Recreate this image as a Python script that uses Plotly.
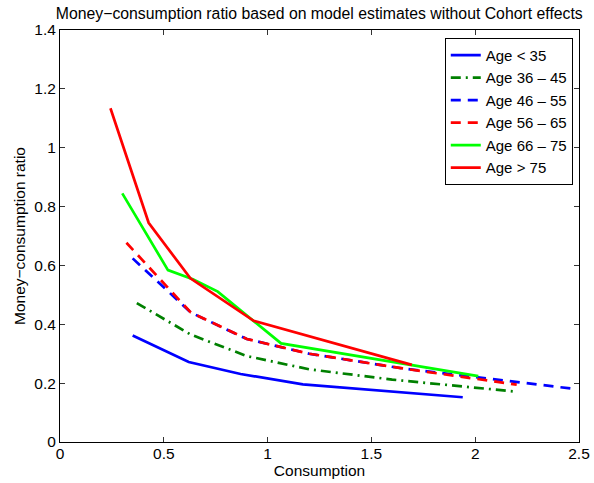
import plotly.graph_objects as go

# Data
age_lt35_x = [0.35, 0.62, 0.87, 1.17, 1.94]
age_lt35_y = [0.362, 0.272, 0.231, 0.196, 0.152]

age_36_45_x = [0.37, 0.63, 0.90, 1.20, 1.60, 2.20]
age_36_45_y = [0.472, 0.365, 0.292, 0.247, 0.212, 0.171]

age_46_55_x = [0.35, 0.63, 0.90, 1.20, 1.65, 2.46]
age_46_55_y = [0.624, 0.440, 0.350, 0.300, 0.250, 0.182]

age_56_65_x = [0.32, 0.63, 0.90, 1.20, 1.65, 2.20]
age_56_65_y = [0.677, 0.440, 0.350, 0.300, 0.250, 0.195]

age_66_75_x = [0.30, 0.52, 0.64, 0.76, 1.065, 2.015]
age_66_75_y = [0.845, 0.584, 0.553, 0.511, 0.335, 0.224]

age_gt75_x = [0.243, 0.427, 0.628, 0.933, 1.695]
age_gt75_y = [1.134, 0.745, 0.556, 0.412, 0.262]

series = [
    ("Age < 35", age_lt35_x, age_lt35_y, "#0000ff", "solid"),
    ("Age 36 \u2013 45", age_36_45_x, age_36_45_y, "#008000", "10px,5px,2px,5px"),
    ("Age 46 \u2013 55", age_46_55_x, age_46_55_y, "#0000ff", "10px,7px"),
    ("Age 56 \u2013 65", age_56_65_x, age_56_65_y, "#ff0000", "10px,7px"),
    ("Age 66 \u2013 75", age_66_75_x, age_66_75_y, "#00ff00", "solid"),
    ("Age > 75", age_gt75_x, age_gt75_y, "#ff0000", "solid"),
]

x_ticks = [0, 0.5, 1, 1.5, 2, 2.5]
x_tick_labels = ["0", "0.5", "1", "1.5", "2", "2.5"]
y_ticks = [0, 0.2, 0.4, 0.6, 0.8, 1, 1.2, 1.4]
y_tick_labels = ["0", "0.2", "0.4", "0.6", "0.8", "1", "1.2", "1.4"]

fig = go.Figure()
for name, xs, ys, color, dash in series:
    fig.add_trace(go.Scatter(
        x=xs, y=ys, mode="lines", name=name,
        line=dict(color=color, width=2.7, dash=dash),
    ))

font_family = "Liberation Sans, Arial, sans-serif"
axis_common = dict(
    showline=True, linecolor="black", linewidth=1, mirror="ticks",
    ticks="inside", ticklen=5, tickcolor="#333333", tickwidth=1,
    showgrid=False, zeroline=False, automargin=False,
    tickfont=dict(family=font_family, size=15.5, color="black"),
)

fig.update_layout(
    width=594, height=483,
    margin=dict(l=59.5, r=15, t=30, b=41),
    paper_bgcolor="white", plot_bgcolor="white",
    font=dict(family=font_family, size=15, color="black"),
    title=dict(
        text="Money\u2212consumption ratio based on model estimates without Cohort effects",
        x=(59.5 + 579) / 2 / 594, xanchor="center", y=1 - 13 / 483, yanchor="middle",
        font=dict(family=font_family, size=15.8, color="black"),
    ),
    xaxis=dict(
        range=[0, 2.5], tickvals=x_ticks, ticktext=x_tick_labels,
        ticklabelstandoff=-3,
        title=dict(text="Consumption", standoff=0,
                   font=dict(family=font_family, size=15.5, color="black")),
        **axis_common,
    ),
    yaxis=dict(
        range=[0, 1.4], tickvals=y_ticks, ticktext=y_tick_labels,
        title=dict(text="Money\u2212consumption ratio", standoff=4,
                   font=dict(family=font_family, size=15.5, color="black")),
        **axis_common,
    ),
    legend=dict(
        x=0.988, y=0.981, xanchor="right", yanchor="top",
        bordercolor="black", borderwidth=1, bgcolor="white",
        font=dict(family=font_family, size=15, color="black"),
        tracegroupgap=0,
    ),
    showlegend=True,
)

fig.write_html("out.html")
